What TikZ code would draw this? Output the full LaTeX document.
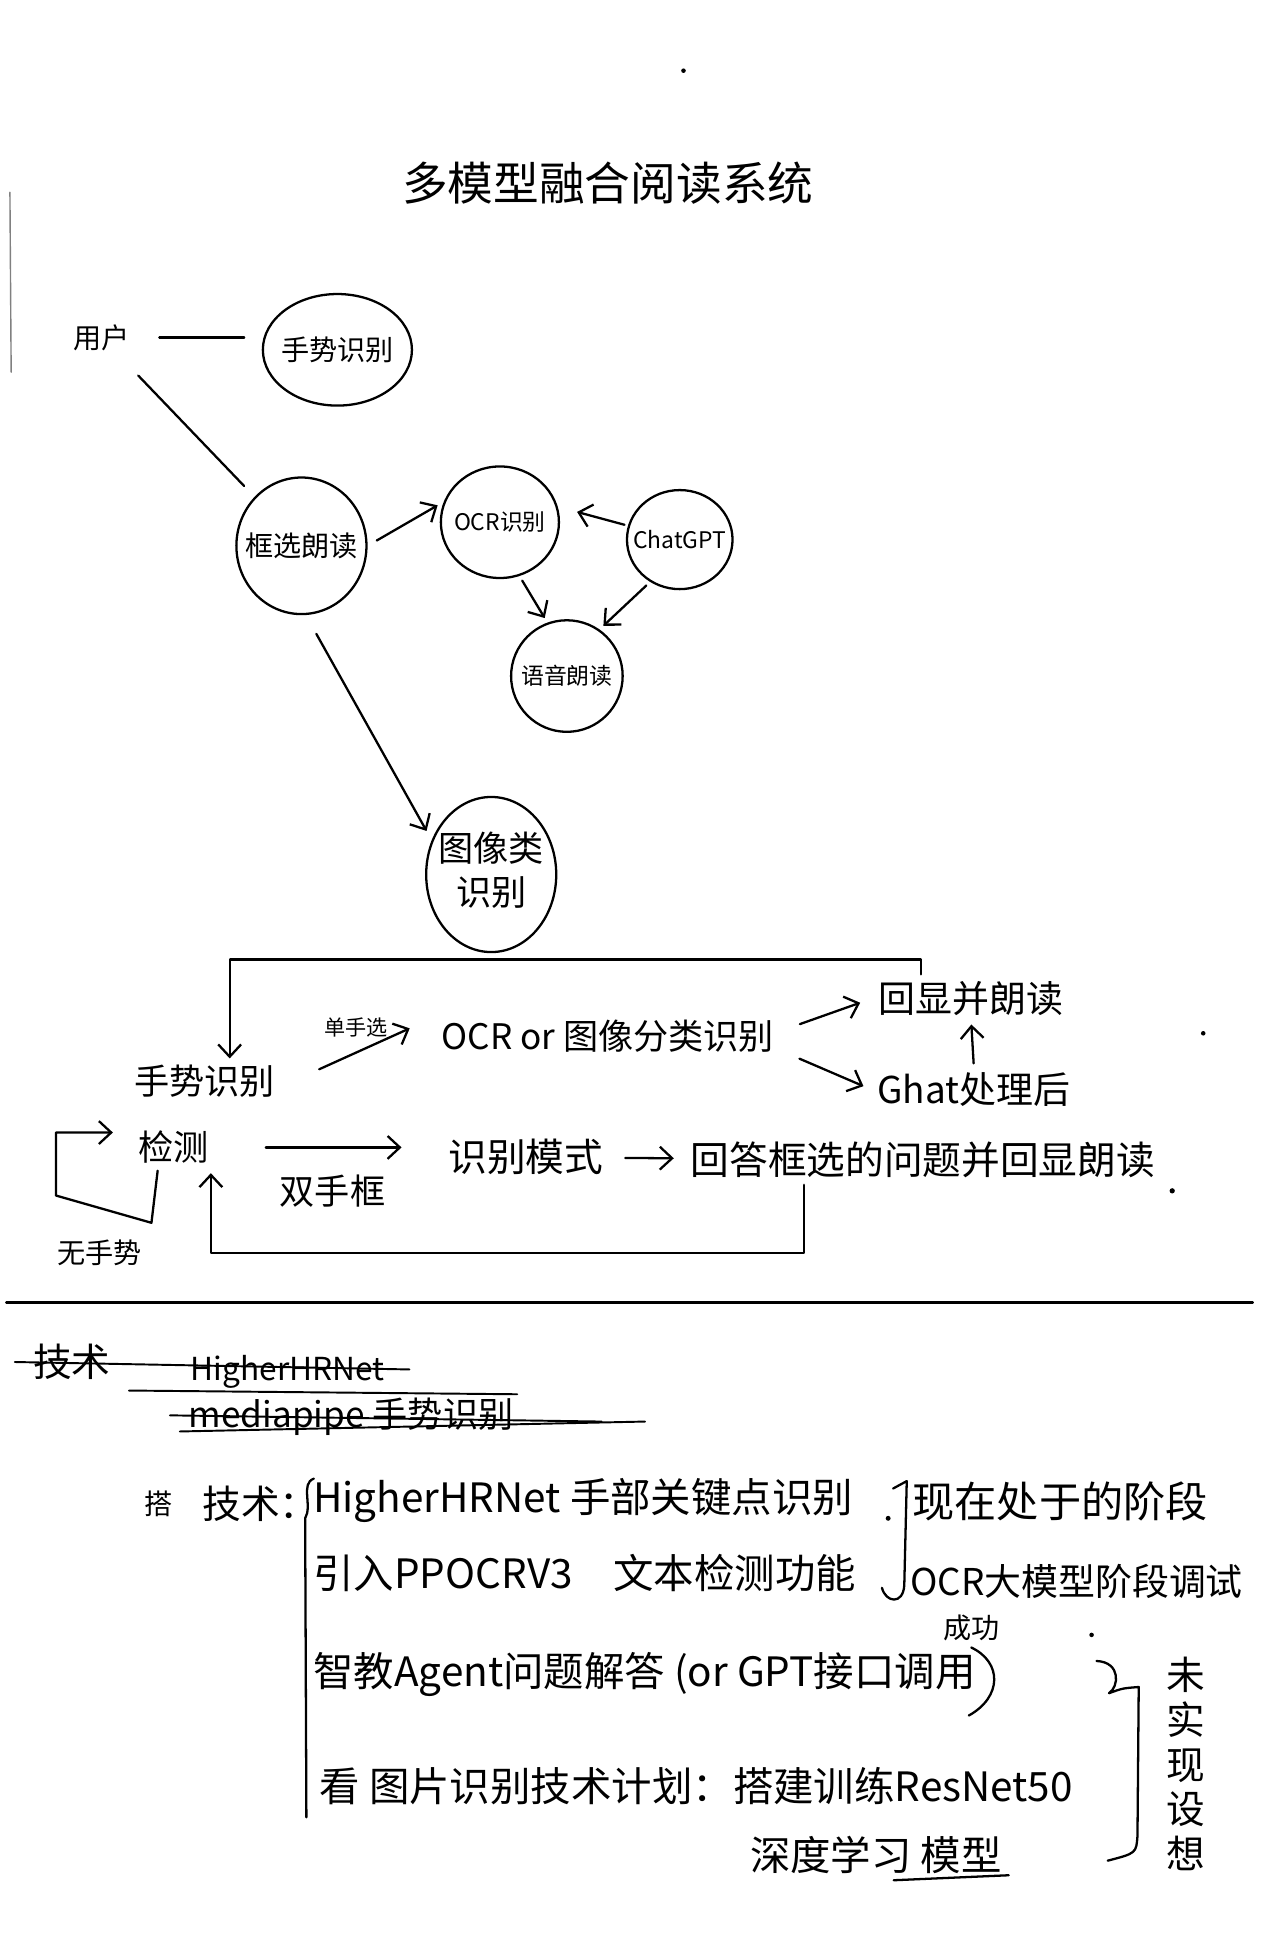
\documentclass[tikz,border=0pt]{standalone}
\usepackage{fontspec}
\setmainfont{Noto Sans CJK SC}
\usetikzlibrary{arrows.meta,shapes.geometric}
\newcommand{\fsz}[2]{\fontsize{#1}{#2}\selectfont}

\begin{document}
\begin{tikzpicture}[x=0.0248cm,y=-0.0248cm,line width=1.3pt,line cap=round,line join=round,
  bubble/.style={draw,ellipse,inner sep=0pt},
  arr/.style={-{Straight Barb[length=7pt,width=13pt]}},
  strike/.style={line width=1.1pt}]
\useasboundingbox (0,0) rectangle (1032,1568);

% title
\node[font=\fsz{26}{30}] (title) at (490,148) {多模型融合阅读系统};

% stray marks on the page
\draw[gray,line width=0.8pt] (8,155) -- (9,300);
\fill (551,57) circle (1.3pt);
\fill (970,833) circle (1.3pt);

% top: modules
\node[font=\fsz{16}{19}] (user) at (82,272) {用户};
\node[bubble,font=\fsz{16}{19},minimum width=2.98cm,minimum height=2.23cm] (gesture) at (272,282) {\makebox[0pt]{手势识别}};
\node[bubble,font=\fsz{16}{19},minimum width=2.6cm,minimum height=2.73cm] (frame) at (243,440) {\makebox[0pt]{框选朗读}};
\node[bubble,font=\fsz{13}{16},minimum width=2.36cm,minimum height=2.23cm] (ocr) at (403,421) {\makebox[0pt]{OCR识别}};
\node[bubble,font=\fsz{13}{16},minimum width=2.11cm,minimum height=1.98cm] (gpt) at (548,435) {\makebox[0pt]{ChatGPT}};
\node[bubble,font=\fsz{13}{16},minimum width=2.23cm,minimum height=2.23cm] (voice) at (457,545) {\makebox[0pt]{语音朗读}};
\node[bubble,font=\fsz{20}{25},minimum width=2.6cm,minimum height=3.1cm] (image) at (396,705) {\makebox[0pt]{\begin{tabular}{@{}c@{}}图像类\\识别\end{tabular}}};

\draw[shorten <=0.45cm,shorten >=0.35cm] (user.east) -- (user.east -| gesture.west);
\draw[shorten <=0.5cm,shorten >=0.3cm] (user) -- (frame);
\draw[arr,shorten <=6pt,shorten >=4pt] (frame.east) -- (ocr.160);
\draw[arr,shorten <=2pt,shorten >=0.4cm] (gpt.165) -- (ocr.15);
\draw[arr,shorten <=3pt,shorten >=3pt] (ocr.290) -- (voice.110);
\draw[arr,shorten <=3pt,shorten >=3pt] (gpt.235) -- (voice.55);
\draw[arr,shorten >=6pt] ([shift={(12,15)}]frame.south) -- (image.150);

% middle: flow
\node[font=\fsz{20}{24}] (ges2) at (165,872) {手势识别};
\node[font=\fsz{20}{24}] (det) at (140,925) {检测};
\node[font=\fsz{12}{14}] (single) at (287,828) {单手选};
\node[font=\fsz{20}{24}] (ocrtxt) at (490,835) {OCR or 图像分类识别};
\node[font=\fsz{21}{25}] (echo) at (783,805) {回显并朗读};
\node[font=\fsz{21}{25}] (chat) at (785,878) {Ghat处理后};
\node[font=\fsz{22}{26}] (mode) at (424,933) {识别模式};
\node[font=\fsz{22}{26}] (answer) at (744,935) {回答框选的问题并回显朗读};
\node[font=\fsz{20}{24}] (double) at (268,960) {双手框};
\node[font=\fsz{16}{19}] (nog) at (80,1010) {无手势};
\fill (945,960) circle (1.5pt);

\draw[arr] ([xshift=-1cm]echo.north) -- ++(0,-12) -| ([xshift=0.5cm]ges2.north);
\draw[arr] ([shift={(30,-10)}]ges2.east) -- ([shift={(-20,-6)}]ocrtxt.west);
\draw[arr,shorten <=0.4cm,shorten >=0.25cm] ([yshift=0.1cm]ocrtxt.east) -- (echo.west);
\draw[arr,shorten <=0.4cm,shorten >=0.15cm] ([yshift=-0.3cm]ocrtxt.east) -- (chat.west);
\draw[arr,shorten <=1pt,shorten >=1pt] (chat.north) -- (echo.south);
\draw[arr,shorten <=1cm,shorten >=0.8cm] (det.east) -- (det.east -| mode.west);
\draw[arr,shorten <=0.3cm,shorten >=0.2cm] (mode) -- (answer);
\draw[arr] ([xshift=-0.32cm]det.south) -- ++(-5,42) -- ++(-77,-22) |- ([shift={(-15,-12)}]det.west);
\draw[arr] ([shift={(97,0)}]answer.south west) -- ++(0,55) -| ([shift={(30,2)}]det.south);

\draw (5,1050) -- (1010,1050);

% bottom: crossed out notes
\node[font=\fsz{22}{26}] (tech1) at (58,1098) {技术};
\node[font=\fsz{18}{22}] (hrnet1) at (232,1106) {HigherHRNet};
\node[font=\fsz{20}{24}] (mp1) at (283,1142) {mediapipe 手势识别};
\draw[strike] (12,1098) -- (330,1104);
\draw[strike] (104,1121) -- (417,1124);
\draw[strike] (137,1141) -- (485,1146);
\draw[strike] (145,1154) -- (520,1146);

% bottom: technology list
\node[font=\fsz{16}{19}] (da) at (128,1212) {搭};
\node[font=\fsz{22}{26}] (tech2) at (210,1212) {技术：};
\draw (253,1192) .. controls (242,1196) and (252,1214) .. (246,1224) -- (247,1465);
\node[font=\fsz{23}{27},anchor=west] (r1) at (247,1210) {HigherHRNet 手部关键点识别};
\node[font=\fsz{23}{27},anchor=west] (r2) at (247,1268) {引入PPOCRV3\quad 文本检测功能};
\node[font=\fsz{23}{27},anchor=west] (r3) at (247,1350) {智教Agent问题解答 (or GPT接口调用};
\node[font=\fsz{23}{27},anchor=west] (r4) at (252,1440) {看 图片识别技术计划：搭建训练ResNet50};
\node[font=\fsz{23}{27},anchor=west] (r5) at (599,1495) {深度学习 模型};
\draw ([xshift=-2.3cm]r5.south east) -- ([yshift=0.1cm]r5.south east);

% bottom: status notes
\draw (720,1200) -- (731,1194) -- (729,1278) .. controls (728,1294) and (714,1292) .. (711,1280);
\fill (716,1224) circle (1.4pt);
\node[font=\fsz{24}{28},anchor=west] (now1) at (730,1210) {现在处于的阶段};
\node[font=\fsz{21}{25},anchor=west] (now2) at (728,1275) {OCR大模型阶段调试};
\node[font=\fsz{16}{19}] (succ) at (783,1312) {成功};
\draw (succ.south) .. controls (808,1340) and (808,1368) .. (781,1383);
\fill (880,1318) circle (1.3pt);
\draw (884,1339) .. controls (904,1340) and (902,1360) .. (894,1365) .. controls (905,1361) .. (918,1360) -- (917,1480) .. controls (916,1494) .. (893,1500);
\node[font=\fsz{22}{25.5},align=center] (idea) at (956,1422) {未\\实\\现\\设\\想};

\end{tikzpicture}
\end{document}
